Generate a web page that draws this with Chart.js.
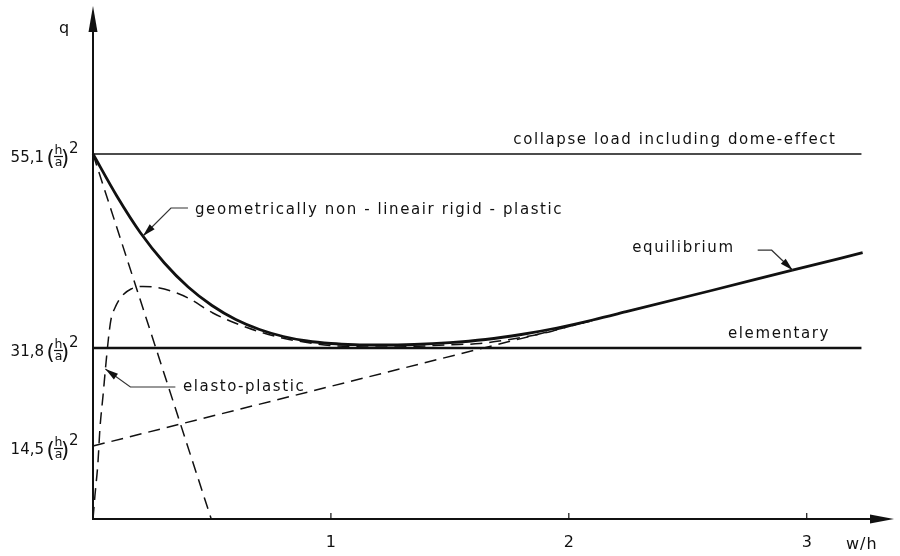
<!DOCTYPE html>
<html><head><meta charset="utf-8">
<script src="https://cdn.jsdelivr.net/npm/chart.js@4/dist/chart.umd.min.js"></script>
<style>html,body{margin:0;padding:0;background:#fff;}canvas{display:block;}</style>
</head><body>
<canvas id="c" width="900" height="556"></canvas>
<script>
// x = w/h ; y = q in schematic drawing units (the reference axis is not to scale)
const xTicks = [1, 2, 3];
const xTickLabels = ['1', '2', '3'];
const yTickValues = [365, 171, 73];
const yTickNumbers = ['55,1', '31,8', '14,5'];

const collapseX = [0, 3.23];
const collapseY = [365, 365];

const elementaryX = [0, 3.23];
const elementaryY = [171, 171];

const geomX = [0, 0.1, 0.2, 0.3, 0.4, 0.5, 0.6, 0.7, 0.8, 0.9, 1.0, 1.1, 1.2, 1.35, 1.5, 1.65, 1.8, 1.95, 2.1, 2.25, 2.6, 2.94, 3.235];
const geomY = [365, 323, 286, 256, 232, 213.5, 199.5, 189.5, 182.5, 178, 175.5, 174.3, 174, 174.5, 176.3, 179.5, 184.5, 191, 199, 207.8, 228.5, 248.8, 266.3];

const elastoX = [0, 0.008, 0.021, 0.029, 0.042, 0.055, 0.067, 0.076, 0.092, 0.118, 0.16, 0.21, 0.261, 0.328, 0.4, 0.504, 0.647, 0.786, 0.9, 0.996, 1.206, 1.345, 1.487, 1.626, 1.836, 1.933, 2.004, 2.088];
const elastoY = [0, 23, 57, 90, 123, 157, 185, 200, 211, 222, 230, 232.6, 231.8, 228, 221, 206, 191.5, 181.5, 176.5, 173.5, 172, 172.5, 174.2, 175.5, 183, 188, 192.8, 197.6];

const rigidX = [0, 0.497];
const rigidY = [365, 0];

const equilX = [0, 2.1];
const equilY = [73, 198.4];

const INK = '#111';
const FONT = '"DejaVu Sans", sans-serif';
const mk = (xs, ys) => xs.map((x, i) => ({x: x, y: ys[i]}));

function spacedText(ctx, str, x, y, ls, align) {
  const chars = Array.from(str);
  const ws = chars.map(ch => ctx.measureText(ch).width);
  const w = ws.reduce((a, b) => a + b, 0) + ls * (chars.length - 1);
  let cx = align === 'right' ? x - w : (align === 'center' ? x - w / 2 : x);
  ctx.textAlign = 'left';
  chars.forEach((ch, i) => { ctx.fillText(ch, cx, y); cx += ws[i] + ls; });
}
function arrowHead(ctx, fx, fy, tx, ty, len, half) {
  const a = Math.atan2(ty - fy, tx - fx);
  const c = Math.cos(a), s = Math.sin(a);
  ctx.beginPath();
  ctx.moveTo(tx, ty);
  ctx.lineTo(tx - len * c + half * s, ty - len * s - half * c);
  ctx.lineTo(tx - len * c - half * s, ty - len * s + half * c);
  ctx.closePath();
  ctx.fill();
}

const decor = {
  id: 'decor',
  afterDatasetsDraw(chart) {
    const ctx = chart.ctx;
    const xs = chart.scales.x, ys = chart.scales.y;
    const x0 = xs.getPixelForValue(0), y0 = ys.getPixelForValue(0);
    ctx.save();
    ctx.strokeStyle = INK; ctx.fillStyle = INK; ctx.lineCap = 'butt';
    // y axis with arrow
    ctx.lineWidth = 2;
    ctx.beginPath(); ctx.moveTo(x0, y0 + 1); ctx.lineTo(x0, 28); ctx.stroke();
    arrowHead(ctx, x0, 40, x0, 6, 26, 4.5);
    // x axis with arrow
    ctx.beginPath(); ctx.moveTo(x0 - 1, y0); ctx.lineTo(875, y0); ctx.stroke();
    arrowHead(ctx, 860, y0, 894, y0, 24, 4.5);
    // x ticks
    ctx.lineWidth = 1.2;
    ctx.font = '16px ' + FONT; ctx.textAlign = 'center'; ctx.textBaseline = 'alphabetic';
    xTicks.forEach((v, i) => {
      const px = xs.getPixelForValue(v);
      ctx.beginPath(); ctx.moveTo(px, y0); ctx.lineTo(px, y0 - 6); ctx.stroke();
      ctx.fillText(xTickLabels[i], px, 547);
    });
    // axis titles
    ctx.font = '16px ' + FONT;
    spacedText(ctx, 'w/h', 846, 549, 1, 'left');
    spacedText(ctx, 'q', 59, 33, 0, 'left');
    // y tick labels  N (h/a)^2
    yTickValues.forEach((v, i) => {
      const py = ys.getPixelForValue(v);
      const base = py + 8;
      ctx.font = '15px ' + FONT; ctx.textAlign = 'right';
      ctx.fillText(yTickNumbers[i], 44, base);
      ctx.textAlign = 'left';
      ctx.font = '21px ' + FONT;
      ctx.fillText('(', 46.5, base + 3);
      ctx.fillText(')', 61, base + 3);
      ctx.font = '12.5px ' + FONT; ctx.textAlign = 'center';
      ctx.fillText('h', 58.5, base - 8);
      ctx.fillText('a', 58.5, base + 3.5);
      ctx.lineWidth = 1.2;
      ctx.beginPath(); ctx.moveTo(54, base - 5.5); ctx.lineTo(63, base - 5.5); ctx.stroke();
      ctx.font = '15px ' + FONT; ctx.textAlign = 'left';
      ctx.fillText('2', 69, base - 9);
    });
    // curve labels
    ctx.font = '15px ' + FONT;
    spacedText(ctx, 'collapse load including dome-effect', 835, 144, 1.6, 'right');
    spacedText(ctx, 'geometrically non - lineair rigid - plastic', 195, 214, 1.6, 'left');
    spacedText(ctx, 'equilibrium', 733, 252, 1.6, 'right');
    spacedText(ctx, 'elementary', 728, 338, 1.6, 'left');
    spacedText(ctx, 'elasto-plastic', 183, 391, 1.6, 'left');
    // leaders with arrows
    ctx.strokeStyle = '#333'; ctx.fillStyle = INK; ctx.lineWidth = 1.2;
    const leaders = [
      {tx: 0.21, ty: 283, kx: 28, ky: -28, ex: 17},
      {tx: 0.052, ty: 150, kx: 25, ky: 18, ex: 45},
      {tx: 2.941, ty: 248.8, kx: -21, ky: -20, ex: -14}
    ];
    leaders.forEach(l => {
      const tx = xs.getPixelForValue(l.tx), ty = ys.getPixelForValue(l.ty);
      const kx = tx + l.kx, ky = ty + l.ky;
      ctx.beginPath(); ctx.moveTo(kx + l.ex, ky); ctx.lineTo(kx, ky); ctx.lineTo(tx, ty); ctx.stroke();
      arrowHead(ctx, kx, ky, tx, ty, 13, 3.5);
    });
    ctx.restore();
  }
};

const base = {showLine: true, pointRadius: 0, borderColor: INK, fill: false, clip: false, tension: 0};
new Chart(document.getElementById('c'), {
  type: 'scatter',
  data: {
    datasets: [
      Object.assign({}, base, {label: 'collapse load including dome-effect', data: mk(collapseX, collapseY), borderWidth: 1.5}),
      Object.assign({}, base, {label: 'elementary', data: mk(elementaryX, elementaryY), borderWidth: 2.4}),
      Object.assign({}, base, {label: 'geometrically non-lineair rigid-plastic', data: mk(geomX, geomY), borderWidth: 2.8, cubicInterpolationMode: 'monotone'}),
      Object.assign({}, base, {label: 'elasto-plastic', data: mk(elastoX, elastoY), borderWidth: 1.5, borderDash: [12, 7], cubicInterpolationMode: 'monotone'}),
      Object.assign({}, base, {label: 'rigid-plastic', data: mk(rigidX, rigidY), borderWidth: 1.5, borderDash: [12, 7]}),
      Object.assign({}, base, {label: 'equilibrium', data: mk(equilX, equilY), borderWidth: 1.5, borderDash: [12, 7]})
    ]
  },
  options: {
    responsive: false,
    animation: false,
    devicePixelRatio: 1,
    layout: {padding: {left: 93, right: 10, top: 7, bottom: 37}},
    scales: {
      x: {type: 'linear', min: 0, max: 3.35, display: false},
      y: {type: 'linear', min: 0, max: 512, display: false}
    },
    plugins: {legend: {display: false}, tooltip: {enabled: false}}
  },
  plugins: [decor]
});
</script>
</body></html>
